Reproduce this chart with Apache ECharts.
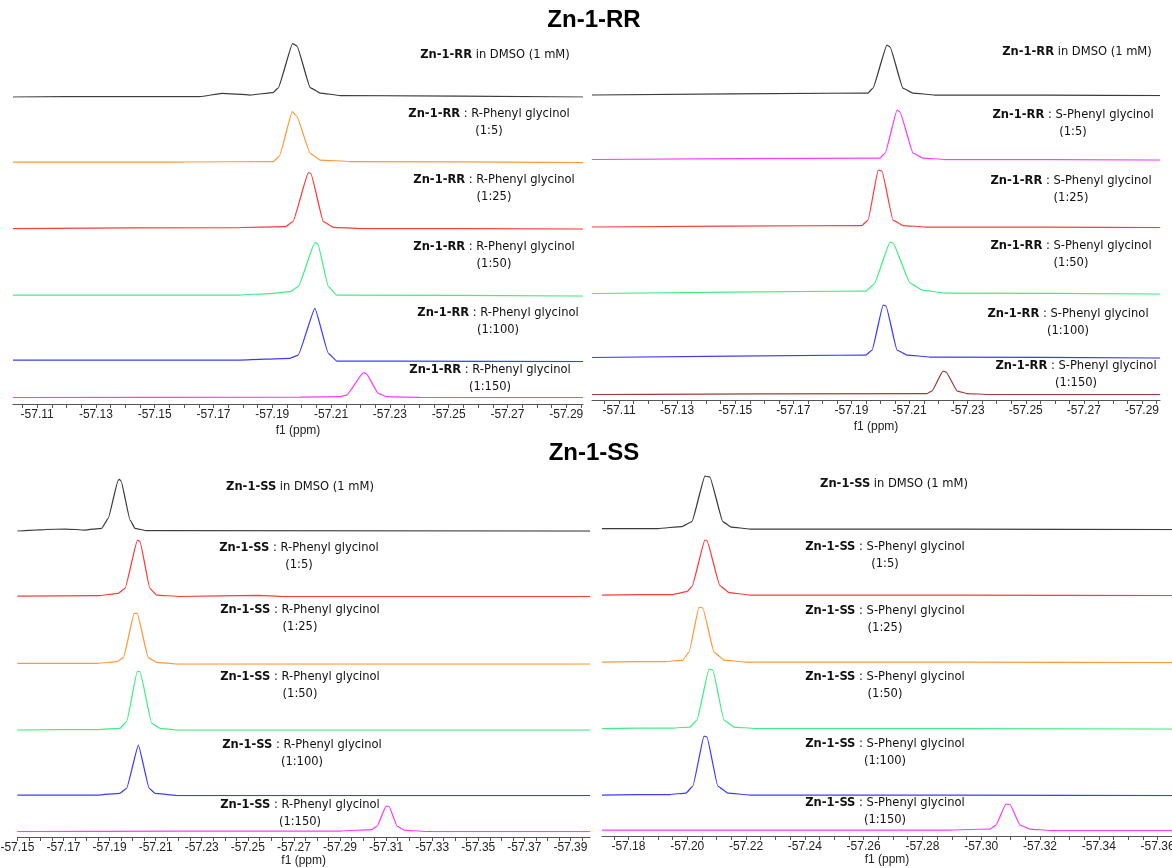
<!DOCTYPE html>
<html>
<head>
<meta charset="utf-8">
<script src="https://cdn.jsdelivr.net/npm/echarts@6/dist/echarts.min.js"></script>
<style>
html,body{margin:0;padding:0;background:#fff;}
#chart{width:1172px;height:868px;}
</style>
</head>
<body>
<div id="chart"></div>
<script>
// ---------------- DATA (ppm, intensity) ----------------
const ratioLabels = ['(1:5)', '(1:25)', '(1:50)', '(1:100)', '(1:150)'];

// tick labels
const ticksRR = [-57.11, -57.13, -57.15, -57.17, -57.19, -57.21, -57.23, -57.25, -57.27, -57.29];
const ticksSSR = [-57.15, -57.17, -57.19, -57.21, -57.23, -57.25, -57.27, -57.29, -57.31, -57.33, -57.35, -57.37, -57.39];
const ticksSSS = [-57.18, -57.20, -57.22, -57.24, -57.26, -57.28, -57.30, -57.32, -57.34, -57.36];

// Zn-1-RR + R-Phenyl glycinol (top left)
const rrR_dmso = [[-57.1018,0],[-57.1382,0.5],[-57.1654,0.4],[-57.1729,3.6],[-57.1824,2],[-57.1903,4.5],[-57.1920,9],[-57.1969,53.5],[-57.1984,51],[-57.2029,9.5],[-57.2063,4],[-57.2131,1.5],[-57.2957,0]];
const rrR_5    = [[-57.1018,0.5],[-57.1600,0.5],[-57.1904,1],[-57.1924,6.5],[-57.1968,50.8],[-57.1983,46.5],[-57.2029,9.2],[-57.2063,2.5],[-57.2165,1],[-57.2957,0]];
const rrR_25   = [[-57.1018,0.5],[-57.1790,1.5],[-57.1944,2.3],[-57.1970,7.3],[-57.2023,56.3],[-57.2031,55.7],[-57.2074,7.3],[-57.2108,1.7],[-57.2199,0.5],[-57.2957,0]];
const rrR_50   = [[-57.1018,1],[-57.1790,1],[-57.1892,2.5],[-57.1960,4.3],[-57.1988,9.3],[-57.2045,53.3],[-57.2055,52],[-57.2091,9.3],[-57.2119,1],[-57.2957,0]];
const rrR_100  = [[-57.1018,1.5],[-57.1790,1.5],[-57.1960,3.2],[-57.1988,6.5],[-57.2045,53.2],[-57.2091,8.2],[-57.2119,0.5],[-57.2335,0.3],[-57.2957,0]];
const rrR_150  = [[-57.1018,0],[-57.1994,0.5],[-57.2131,1],[-57.2153,2.7],[-57.2210,25],[-57.2219,24.3],[-57.2261,4.4],[-57.2289,1],[-57.2403,0.3],[-57.2957,0]];

// Zn-1-RR + S-Phenyl glycinol (top right)
const rrS_dmso = [[-57.1007,0.5],[-57.1957,2.5],[-57.1974,7.5],[-57.2022,50.5],[-57.2033,48.5],[-57.2077,7.5],[-57.2111,2.5],[-57.2187,0.5],[-57.2962,0]];
const rrS_5    = [[-57.1007,0.5],[-57.1998,2],[-57.2016,7],[-57.2057,50],[-57.2067,48],[-57.2112,7],[-57.2146,2],[-57.2222,0.5],[-57.2962,0]];
const rrS_25   = [[-57.1007,0.5],[-57.1936,2],[-57.1957,7.5],[-57.1992,57.5],[-57.2005,56.5],[-57.2043,7.5],[-57.2078,2],[-57.2153,0.5],[-57.2962,0]];
const rrS_50   = [[-57.1007,0.5],[-57.1950,3],[-57.1978,10],[-57.2033,52],[-57.2043,51],[-57.2102,11],[-57.2143,4],[-57.2222,1],[-57.2962,0]];
const rrS_100  = [[-57.1007,0.5],[-57.1950,3],[-57.1971,8],[-57.2009,53],[-57.2019,52],[-57.2057,8],[-57.2091,3],[-57.2171,1],[-57.2962,0]];
const rrS_150  = [[-57.1007,0],[-57.2160,1],[-57.2177,3.5],[-57.2215,23.5],[-57.2226,22.5],[-57.2264,3.5],[-57.2298,1],[-57.2377,0],[-57.2962,0]];

// Zn-1-SS + R-Phenyl glycinol (bottom left)
const ssR_dmso = [[-57.1500,0],[-57.1620,1.5],[-57.1711,2],[-57.1793,1],[-57.1866,2.7],[-57.1894,12.7],[-57.1937,50.5],[-57.1942,51.7],[-57.1950,50],[-57.1989,11],[-57.2010,2.7],[-57.2061,0.3],[-57.3985,0]];
const ssR_5    = [[-57.1500,0.5],[-57.1850,0.8],[-57.1938,3.2],[-57.1967,8.2],[-57.2021,56.5],[-57.2032,55],[-57.2075,8.2],[-57.2104,1.5],[-57.2205,0],[-57.2548,1.2],[-57.2650,0],[-57.3985,0]];
const ssR_25   = [[-57.1500,0.7],[-57.1850,0.7],[-57.1931,2.3],[-57.1960,6.3],[-57.2007,50.7],[-57.2020,50.7],[-57.2068,6.3],[-57.2104,1.7],[-57.2191,0],[-57.3985,0]];
const ssR_50   = [[-57.1500,0],[-57.1850,0.5],[-57.1945,1.7],[-57.1974,8.3],[-57.2020,58.3],[-57.2032,58.3],[-57.2083,6.7],[-57.2119,1.7],[-57.2191,0],[-57.3985,0]];
const ssR_100  = [[-57.1500,0.5],[-57.1850,0.5],[-57.1945,2.2],[-57.1974,7.2],[-57.2025,50.5],[-57.2072,7.2],[-57.2097,2.2],[-57.2191,0],[-57.3985,0]];
const ssR_150  = [[-57.1500,0],[-57.2900,0.5],[-57.3039,2],[-57.3061,5.5],[-57.3100,25.5],[-57.3113,25],[-57.3148,5.5],[-57.3178,1.5],[-57.3269,0],[-57.3985,0]];

// Zn-1-SS + S-Phenyl glycinol (bottom right)
const ssS_dmso = [[-57.1710,1],[-57.1900,1],[-57.1982,3],[-57.2016,8],[-57.2060,53.5],[-57.2077,52.5],[-57.2121,8],[-57.2149,2.5],[-57.2213,0.5],[-57.3649,0]];
const ssS_5    = [[-57.1710,0.5],[-57.1950,1],[-57.1999,3.8],[-57.2016,9],[-57.2060,55.5],[-57.2067,55],[-57.2111,10],[-57.2142,3],[-57.2213,0.5],[-57.3649,0]];
const ssS_25   = [[-57.1710,0.5],[-57.1930,1],[-57.1985,2.5],[-57.2006,10.5],[-57.2040,55.5],[-57.2053,54.5],[-57.2091,10.5],[-57.2125,2.5],[-57.2196,0.5],[-57.3649,0]];
const ssS_50   = [[-57.1710,0.5],[-57.1950,1],[-57.2009,2],[-57.2033,9],[-57.2074,60],[-57.2087,59],[-57.2125,9],[-57.2159,2],[-57.2230,0.5],[-57.3649,0]];
const ssS_100  = [[-57.1710,0.5],[-57.1940,1],[-57.1996,2.5],[-57.2019,9.5],[-57.2057,59.5],[-57.2067,58.5],[-57.2104,9.5],[-57.2138,2.5],[-57.2213,0.5],[-57.3649,0]];
const ssS_150  = [[-57.1710,0.5],[-57.2900,0.5],[-57.3030,1.5],[-57.3050,5.5],[-57.3084,26.5],[-57.3098,26],[-57.3132,5.5],[-57.3166,1.5],[-57.3234,0],[-57.3649,0]];

// ---------------- COLOURS / LAYOUT ----------------
const C = {
  black: '#3c3c3c', orange: '#ff9a3c', red: '#ff3b3b', green: '#40ee85',
  blue: '#3c3cff', magenta: '#ff3cff', brown: '#a33c3c'
};

const panels = [
  { complex: 'Zn-1-RR', guest: 'R-Phenyl glycinol', left: 13, right: 583, min: -57.2957, max: -57.1018,
    axisY: 404, labelMargin: 5, nameGap: 21, ticks: ticksRR,
    traces: [
      { data: rrR_dmso, color: C.black,   base: 97,    lx: 495, ly: 55 },
      { data: rrR_5,    color: C.orange,  base: 162.5, lx: 489, ly: 114 },
      { data: rrR_25,   color: C.red,     base: 229,   lx: 494, ly: 180 },
      { data: rrR_50,   color: C.green,   base: 296,   lx: 494, ly: 247 },
      { data: rrR_100,  color: C.blue,    base: 361.5, lx: 498, ly: 313 },
      { data: rrR_150,  color: C.magenta, base: 397.7, lx: 490, ly: 370 }
    ] },
  { complex: 'Zn-1-RR', guest: 'S-Phenyl glycinol', left: 592, right: 1160, min: -57.2962, max: -57.1007,
    axisY: 400, labelMargin: 5, nameGap: 21, ticks: ticksRR,
    traces: [
      { data: rrS_dmso, color: C.black,   base: 95.5,  lx: 1077, ly: 52 },
      { data: rrS_5,    color: C.magenta, base: 160,   lx: 1073, ly: 115 },
      { data: rrS_25,   color: C.red,     base: 227.5, lx: 1071, ly: 181 },
      { data: rrS_50,   color: C.green,   base: 294,   lx: 1071, ly: 246 },
      { data: rrS_100,  color: C.blue,    base: 358,   lx: 1068, ly: 314 },
      { data: rrS_150,  color: C.brown,   base: 394.5, lx: 1076, ly: 366 }
    ] },
  { complex: 'Zn-1-SS', guest: 'R-Phenyl glycinol', left: 17.4, right: 590, min: -57.3985, max: -57.1500,
    axisY: 837, labelMargin: 5, nameGap: 17, ticks: ticksSSR,
    traces: [
      { data: ssR_dmso, color: C.black,   base: 531,   lx: 300, ly: 487 },
      { data: ssR_5,    color: C.red,     base: 596.5, lx: 299, ly: 548 },
      { data: ssR_25,   color: C.orange,  base: 664,   lx: 300, ly: 610 },
      { data: ssR_50,   color: C.green,   base: 730,   lx: 300, ly: 677 },
      { data: ssR_100,  color: C.blue,    base: 795.5, lx: 302, ly: 745 },
      { data: ssR_150,  color: C.magenta, base: 831.5, lx: 300, ly: 805 }
    ] },
  { complex: 'Zn-1-SS', guest: 'S-Phenyl glycinol', left: 602, right: 1172, min: -57.3649, max: -57.1710,
    axisY: 836, labelMargin: 5, nameGap: 17, ticks: ticksSSS,
    traces: [
      { data: ssS_dmso, color: C.black,   base: 529.5, lx: 894, ly: 484 },
      { data: ssS_5,    color: C.red,     base: 595.5, lx: 885, ly: 547 },
      { data: ssS_25,   color: C.orange,  base: 662.5, lx: 885, ly: 611 },
      { data: ssS_50,   color: C.green,   base: 729,   lx: 885, ly: 677 },
      { data: ssS_100,  color: C.blue,    base: 795.5, lx: 885, ly: 744 },
      { data: ssS_150,  color: C.magenta, base: 830.5, lx: 885, ly: 803 }
    ] }
];

const LABEL_FONT = '"DejaVu Sans Condensed", "DejaVu Sans", sans-serif';
const AXIS_FONT = '"Liberation Sans", Arial, sans-serif';
const LABEL_SIZE = 12.8;
const H = 70;

const grid = [], xAxis = [], yAxis = [], series = [], graphic = [];

graphic.push({ type: 'text', style: { text: 'Zn-1-RR', x: 594, y: 20, align: 'center', verticalAlign: 'middle',
  fontFamily: AXIS_FONT, fontSize: 24, fontWeight: 'bold', fill: '#000' } });
graphic.push({ type: 'text', style: { text: 'Zn-1-SS', x: 594, y: 453, align: 'center', verticalAlign: 'middle',
  fontFamily: AXIS_FONT, fontSize: 24, fontWeight: 'bold', fill: '#000' } });

panels.forEach(p => {
  const width = p.right - p.left;
  p.traces.forEach((t, i) => {
    const gi = grid.length;
    grid.push({ left: p.left, width: width, top: t.base - H, height: H, containLabel: false, outerBoundsMode: 'none' });
    xAxis.push({ type: 'value', gridIndex: gi, min: p.min, max: p.max, inverse: true, show: false });
    yAxis.push({ type: 'value', gridIndex: gi, min: 0, max: H, show: false });
    series.push({ type: 'line', xAxisIndex: gi, yAxisIndex: gi, data: t.data, symbol: 'none',
      smooth: 0.12, smoothMonotone: 'x', lineStyle: { color: t.color, width: 1.25 }, silent: true });
    const line1 = i === 0
      ? '{b|' + p.complex + '} in DMSO (1 mM)'
      : '{b|' + p.complex + '} : ' + p.guest;
    graphic.push({ type: 'text', style: { text: line1, x: t.lx, y: t.ly, align: 'center', verticalAlign: 'middle',
      fontFamily: LABEL_FONT, fontSize: LABEL_SIZE, fill: '#111',
      rich: { b: { fontFamily: LABEL_FONT, fontSize: LABEL_SIZE, fontWeight: 'bold', fill: '#111' } } } });
    if (i > 0) {
      graphic.push({ type: 'text', style: { text: ratioLabels[i - 1], x: t.lx, y: t.ly + 17, align: 'center',
        verticalAlign: 'middle', fontFamily: LABEL_FONT, fontSize: LABEL_SIZE, fill: '#111' } });
    }
  });
  // visible axis
  const gi = grid.length;
  grid.push({ left: p.left, width: width, top: p.axisY - 20, height: 20, containLabel: false, outerBoundsMode: 'none' });
  const minor = [];
  for (let k = Math.ceil(p.min * 200 - 1e-6); k <= Math.floor(p.max * 200 + 1e-6); k++) minor.push(k / 200);
  xAxis.push({ type: 'value', gridIndex: gi, min: p.min, max: p.max, inverse: true,
    axisLine: { show: true, lineStyle: { color: '#555', width: 1 } },
    axisTick: { show: true, customValues: minor, length: 4, lineStyle: { color: '#555', width: 1 } },
    axisLabel: { show: true, customValues: p.ticks, formatter: v => v.toFixed(2), margin: p.labelMargin,
      fontFamily: AXIS_FONT, fontSize: 12, color: '#222', showMinLabel: true, showMaxLabel: true, hideOverlap: false },
    splitLine: { show: false },
    name: 'f1 (ppm)', nameLocation: 'middle', nameGap: p.nameGap,
    nameTextStyle: { fontFamily: AXIS_FONT, fontSize: 12, color: '#222' } });
  yAxis.push({ type: 'value', gridIndex: gi, min: 0, max: 1, show: false });
});

const chart = echarts.init(document.getElementById('chart'), null, { renderer: 'canvas' });
chart.setOption({ animation: false, backgroundColor: '#fff', grid, xAxis, yAxis, series, graphic });
</script>
</body>
</html>
